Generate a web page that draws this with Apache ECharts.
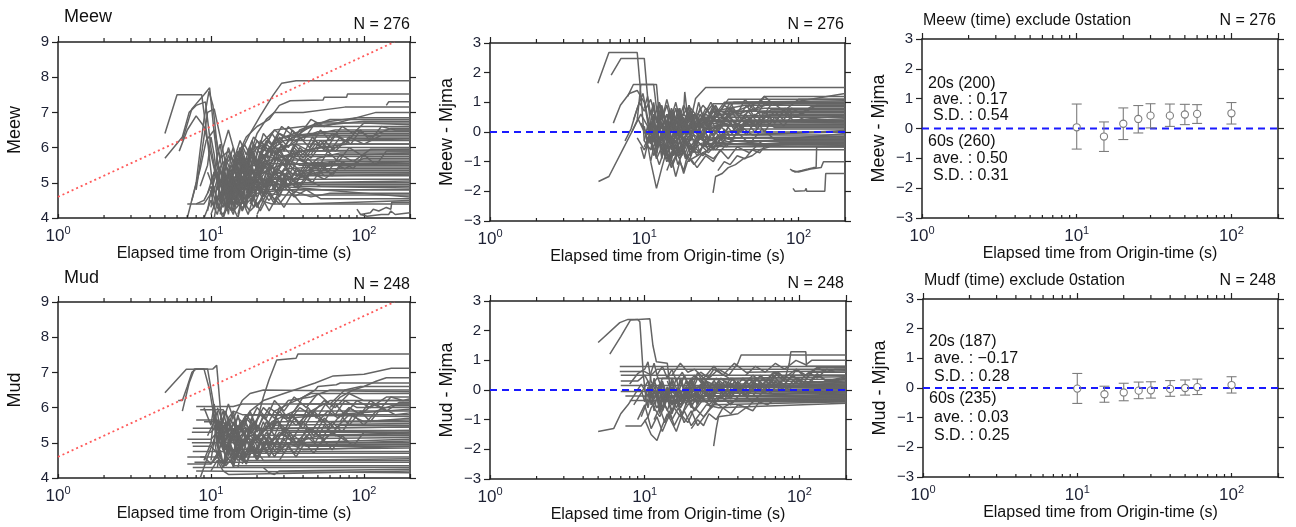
<!DOCTYPE html>
<html><head><meta charset="utf-8">
<script src="https://cdn.jsdelivr.net/npm/echarts@6/dist/echarts.min.js"></script>
<style>html,body{margin:0;padding:0;background:#fff}#c{width:1296px;height:527px}</style>
</head><body><div id="c"></div>
<script>
// ---------------- data ----------------
const xTickLabels = [1, 10, 100];
const minorTicks = [2,3,4,5,6,7,8,9,20,30,40,50,60,70,80,90];
const redLineX = [1, 158];
const redLineY = [4.6, 9.0];
const zeroLineX = [1, 200];

// Meew traces (t, M, t, M, ...)
const meewTraces = [
[5,6.4, 6,7.5, 8.7,7.5, 9.5,6.2, 10.2,5.0, 11,4.5, 12.5,4.8, 14,4.4, 16,5.0, 19,5.3, 24,5.9, 30,6.2, 200,6.2],
[5,5.7, 6.5,6.3, 7.2,7.0, 8,7.2, 9.2,7.3, 10,6.0, 10.8,5.2, 12,5.6, 14,5.1, 17,5.6, 20,6.0, 26,6.5, 40,6.6, 200,6.6],
[6.5,6.2, 7.5,7.1, 9,7.5, 9.8,7.7, 10.5,6.4, 11.5,5.0, 13,4.6, 15,5.2, 18,5.0, 22,5.6, 35,5.8, 200,5.8],
[7,4.0, 8,5.0, 9,6.8, 9.7,7.6, 10.3,7.2, 11,6.0, 12,5.3, 13,4.8, 15,4.4, 17,4.9, 20,5.2, 28,5.5, 60,5.6, 200,5.6],
[8,4.8, 8.8,6.0, 9.5,7.0, 10.5,7.1, 11.5,6.3, 12.5,5.5, 14,5.0, 17,5.4, 21,5.1, 26,5.7, 50,6.0, 80,6.1, 200,6.1],
[6.2,5.9, 7,6.5, 8,6.9, 9,6.6, 10,5.8, 11,5.0, 12,4.4, 14,4.2, 17,4.6, 22,4.9, 40,5.0, 200,5.0],
[7.5,4.5, 8.5,5.4, 9.3,6.2, 10.5,6.5, 11.5,5.7, 13,5.9, 15,5.3, 19,5.5, 25,5.2, 32,5.4, 70,5.5, 200,5.5],
[8,4.4, 9,4.5, 10,4.9, 11,4.3, 12,4.1, 13.5,4.5, 16,4.3, 20,4.7, 30,4.8, 200,4.8],
[9.5,4.7, 10.5,5.3, 11.5,4.9, 12.5,5.5, 13.5,5.0, 15,5.7, 16.5,5.2, 18,5.8, 20,5.4, 24,6.0, 30,6.3, 45,6.4, 200,6.4],
[10,4.1, 11,4.6, 12,4.3, 13,5.0, 14,4.6, 15.5,5.3, 17,4.8, 19,5.2, 22,4.9, 27,5.3, 35,5.1, 50,5.3, 200,5.3],
[10.5,5.5, 11.5,5.0, 12.5,5.7, 13.5,5.3, 15,5.9, 16,5.4, 18,6.0, 20,5.6, 23,6.2, 28,5.9, 40,6.3, 65,6.5, 200,6.5],
[11,4.4, 12,4.0, 13,4.6, 14,4.2, 15,4.8, 16.5,4.4, 18,5.0, 20,4.6, 24,5.1, 30,4.9, 40,5.2, 200,5.2],
[11,5.2, 12,4.7, 13,5.3, 14.5,4.8, 16,5.5, 17.5,5.0, 19,5.6, 21,5.2, 25,5.8, 30,5.5, 38,5.9, 55,6.0, 200,6.0],
[12,4.9, 13,4.4, 14,5.1, 15,4.6, 16,5.2, 18,4.7, 20,5.3, 23,4.8, 27,5.4, 34,5.1, 45,5.4, 200,5.4],
[12.5,4.2, 13.5,4.9, 14.5,4.4, 16,5.0, 17,4.5, 19,5.1, 21,4.7, 24,5.2, 28,4.8, 36,5.0, 200,5.05],
[10,5.0, 11,5.6, 12,5.1, 13,5.8, 14,5.4, 15.5,6.0, 17,5.5, 19,6.1, 22,5.7, 26,6.2, 35,6.4, 60,6.8, 200,6.8],
[13,5.6, 14,6.0, 15,5.5, 16.5,6.1, 18,5.8, 20,6.4, 23,6.8, 26,7.0, 40,7.0, 75,7.15, 200,7.15],
[11,4.6, 13,5.0, 15,5.7, 18,6.4, 21,6.9, 25.5,7.49, 29,7.83, 36,7.9, 200,7.9],
[15,5.8, 17,6.3, 20,6.6, 24,6.8, 28,7.2, 33,7.33, 54,7.35, 55,7.43, 77,7.43, 78,7.52, 200,7.52],
[14,4.3, 15,4.0, 16,4.5, 17.5,4.1, 19,4.6, 21,4.2, 24,4.7, 28,4.4, 33,4.8, 45,4.6, 60,4.7, 200,4.7],
[16,4.6, 17,5.1, 18.5,4.7, 20,5.3, 22,4.9, 25,5.5, 28,5.1, 32,5.6, 40,5.3, 50,5.7, 70,5.85, 200,5.85],
[17,5.3, 18.5,5.9, 20,5.5, 22,6.1, 25,5.8, 28,6.3, 32,6.0, 38,6.5, 50,6.7, 90,6.85, 200,6.85],
[18,4.4, 20,4.9, 22,4.5, 25,5.0, 28,4.6, 32,5.2, 37,4.9, 45,5.3, 55,5.1, 70,5.45, 200,5.45],
[20,5.0, 22,5.5, 25,5.2, 28,5.7, 31,5.4, 35,5.9, 40,5.6, 48,6.1, 60,5.9, 80,6.25, 200,6.25],
[22,4.6, 25,5.1, 28,4.8, 32,5.3, 36,5.0, 42,5.5, 50,5.2, 60,5.6, 75,5.4, 100,5.7, 200,5.7],
[25,4.8, 28,5.2, 32,4.9, 36,5.4, 42,5.1, 50,5.6, 58,5.3, 70,5.8, 85,5.6, 110,5.95, 200,5.95],
[9,4.0, 10,4.5, 11,4.1, 12,4.8, 13,4.3, 14,4.9, 16,4.5, 18,4.2, 21,4.5, 25,4.4, 200,4.4],
[11.5,4.6, 12.5,5.2, 13.5,4.7, 15,5.4, 16.5,4.9, 18,5.5, 20,5.0, 23,5.6, 27,5.3, 32,5.8, 42,5.55, 200,5.55],
[12,5.4, 13,6.0, 14,5.6, 15.5,6.2, 17,5.8, 19,6.3, 22,6.0, 26,6.5, 32,6.2, 45,6.6, 100,6.75, 200,6.75],
[14,5.2, 15,4.7, 16,5.4, 17,4.9, 18.5,5.5, 20,5.0, 22,5.6, 25,5.2, 30,5.7, 38,5.5, 200,5.5],
[15,4.9, 16,4.4, 17,5.0, 18,4.6, 19.5,5.2, 21,4.8, 23,5.3, 26,4.9, 30,5.4, 36,5.2, 48,5.35, 200,5.35],
[18,5.7, 20,6.2, 22,5.9, 25,6.4, 28,6.1, 32,6.6, 37,6.3, 45,6.8, 55,6.6, 120,7.0, 200,7.0],
[13,4.5, 14,5.2, 15,4.8, 16,5.6, 17,5.1, 18,5.7, 19,5.2, 21,5.9, 24,5.5, 28,6.0, 36,6.1, 200,6.1],
[16,4.2, 18,4.7, 20,4.3, 23,4.9, 26,4.5, 30,5.0, 35,4.7, 42,5.1, 52,4.9, 200,4.9],
[20,4.3, 23,4.8, 26,4.4, 30,4.9, 35,4.6, 42,4.8, 52,4.55, 200,4.55],
[24,5.3, 28,5.8, 33,5.5, 38,6.0, 45,5.7, 55,6.2, 65,5.9, 80,6.3, 100,6.1, 130,6.35, 200,6.35],
[30,5.5, 35,6.0, 40,5.7, 48,6.2, 56,5.9, 66,6.4, 76,6.1, 90,6.5, 110,6.3, 150,6.55, 200,6.55],
[9.5,5.3, 10.5,4.8, 11.5,5.4, 12.5,4.9, 13.5,5.5, 15,5.1, 17,5.7, 19,5.3, 22,5.8, 27,5.65, 200,5.65],
[90,4.25, 95,4.1, 110,4.15, 115,4.25, 125,4.2, 140,4.3, 150,4.25, 152,4.45, 200,4.45],
[95,4.1, 105,4.05, 130,4.1, 145,4.1, 150,4.2, 160,4.1, 200,4.15],
[140,7.2, 145,7.3, 200,7.3],
[7,4.4, 9,4.4, 10,4.7, 11,5.4, 12,6.0, 13,6.5, 14,6.0, 15,5.4, 16,4.9, 18,5.2, 22,4.7, 30,4.65, 200,4.65],
[10,4.3, 10.5,4.9, 11,4.4, 11.5,5.1, 12,4.6, 12.5,5.3, 13,4.8, 14,5.5, 15,5.0, 16,5.6, 17.5,5.2, 19,5.8, 21,5.4, 24,5.9, 29,5.75, 200,5.75],
[10.5,4.0, 11,4.5, 11.5,4.2, 12,4.7, 12.5,4.3, 13,4.9, 14,4.5, 15,5.0, 16,4.6, 17,5.1, 19,4.8, 22,5.1, 200,5.1],
[11,4.8, 11.5,5.4, 12,4.9, 12.5,5.6, 13,5.1, 13.5,5.8, 14.5,5.3, 15.5,5.9, 17,5.5, 19,6.05, 23,5.9, 200,5.9],
[11.5,4.1, 12,4.6, 12.5,4.2, 13,4.8, 13.5,4.4, 14.5,5.0, 15.5,4.6, 16.5,5.2, 18,4.8, 20,5.3, 23,5.0, 30,5.25, 200,5.25],
[12,5.1, 12.5,4.6, 13,5.3, 13.5,4.8, 14,5.5, 15,5.0, 16,5.7, 17,5.2, 18.5,5.9, 20,5.5, 23,6.1, 27,5.8, 34,6.3, 200,6.3],
[12.5,4.5, 13,4.1, 13.5,4.7, 14,4.3, 15,4.9, 16,4.4, 17,5.0, 18,4.6, 20,5.1, 22,4.7, 25,5.2, 30,4.95, 200,4.95],
[13,5.4, 13.5,4.9, 14,5.6, 15,5.1, 16,5.8, 17,5.3, 18,6.0, 19.5,5.6, 21,6.2, 24,5.9, 28,6.4, 35,6.2, 50,6.45, 200,6.45],
[13.5,4.2, 14,4.8, 15,4.4, 16,5.0, 17,4.5, 18,5.1, 19.5,4.7, 21,5.2, 23,4.8, 26,5.3, 30,5.0, 37,5.35, 200,5.35],
[14,4.6, 15,5.3, 16,4.8, 17,5.5, 18,5.0, 19,5.7, 20.5,5.2, 22,5.8, 24,5.4, 27,6.0, 31,5.6, 36,6.1, 44,5.9, 200,5.95],
[15,4.1, 16,4.6, 17,4.3, 18,4.9, 19,4.5, 20.5,5.0, 22,4.6, 24,5.1, 27,4.7, 30,5.2, 35,4.9, 200,4.85],
[16,5.0, 17,5.6, 18,5.2, 19,5.9, 20.5,5.4, 22,6.1, 24,5.7, 27,6.3, 30,5.9, 34,6.5, 40,6.2, 48,6.7, 200,6.7],
[17,4.7, 18,5.2, 19,4.8, 20.5,5.4, 22,5.0, 24,5.5, 26,5.1, 29,5.6, 33,5.3, 38,5.7, 45,5.5, 200,5.6],
[19,4.5, 20.5,5.0, 22,4.6, 24,5.2, 26,4.8, 29,5.3, 32,4.9, 36,5.4, 41,5.1, 47,5.5, 55,5.2, 200,5.25],
[21,5.2, 23,5.8, 25,5.4, 28,6.0, 31,5.6, 35,6.1, 40,5.8, 46,6.3, 53,6.0, 62,6.4, 75,6.2, 200,6.25],
[23,4.9, 26,5.4, 29,5.0, 33,5.5, 37,5.2, 43,5.7, 50,5.4, 58,5.9, 68,5.6, 80,6.0, 95,5.8, 200,5.85],
[26,5.6, 29,6.1, 33,5.8, 38,6.3, 44,6.0, 52,6.5, 60,6.2, 72,6.6, 85,6.4, 100,6.7, 200,6.65],
[35,4.9, 40,5.3, 46,5.0, 54,5.5, 62,5.2, 72,5.6, 85,5.4, 100,5.8, 120,5.5, 140,5.9, 200,5.9],
[45,5.8, 52,6.2, 60,5.9, 70,6.3, 82,6.1, 95,6.5, 110,6.2, 130,6.6, 160,6.5, 200,6.5],
[10,4.6, 10.5,5.2, 11,5.8, 11.5,6.1, 12,5.5, 12.5,4.9, 13,5.4, 14,4.8, 15,5.3, 16,4.7, 18,5.2, 21,4.8, 200,4.8],
[9.5,4.2, 10,4.8, 10.5,4.3, 11,5.0, 11.5,4.5, 12,5.2, 12.5,4.7, 13.5,5.3, 14.5,4.8, 16,5.4, 18,5.0, 21,5.55, 200,5.5],
[12,4.0, 13,4.4, 14,4.1, 15,4.6, 16,4.2, 17.5,4.7, 19,4.3, 21,4.8, 24,4.5, 28,4.9, 200,4.6],
[14,5.8, 15,5.3, 16,6.0, 17,5.5, 18.5,6.2, 20,5.8, 22,6.4, 25,6.1, 29,6.6, 34,6.35, 200,6.35],
[20,4.1, 22,4.5, 24,4.2, 27,4.6, 30,4.3, 34,4.7, 39,4.4, 200,4.5],
[8.5,4.9, 9.5,5.5, 10,6.3, 10.5,5.8, 11,5.0, 11.5,4.5, 12.5,4.9, 13.5,4.4, 15,4.9, 17,4.5, 20,4.95, 200,4.95]
];

// Meew - Mjma traces
const meewDiffTraces = [
[5,1.64, 5.9,2.68, 9.0,2.68, 9.6,1.0, 10,-0.3, 11,-0.6, 12.5,-0.2, 14,-0.7, 16,-0.3, 19,0.1, 24,0.3, 35,0.5, 200,0.5],
[6.1,1.92, 7.07,2.48, 10,2.48, 10.5,1.2, 11,0.2, 12,-0.4, 13.5,0.1, 15,-0.5, 17,-0.1, 20,0.3, 26,0.1, 40,0.4, 200,0.4],
[5.05,-1.67, 5.9,-1.5, 7.4,-0.5, 8.3,0.0, 9.5,0.6, 10.5,0.2, 12,0.5, 13,-0.1, 15,0.3, 18,-0.2, 22,0.2, 30,0.0, 200,0.0],
[7.8,1.2, 8.5,1.6, 11.5,1.6, 12,0.8, 13,0.2, 14,0.6, 15,-0.2, 17,0.3, 20,-0.1, 24,0.4, 32,0.6, 60,0.8, 200,0.8],
[6.3,0.3, 7,0.9, 8,1.3, 9,1.4, 10,1.0, 10.8,0.0, 11.5,-0.8, 12.5,-0.4, 14,-0.9, 16,-0.5, 19,-0.8, 23,-0.4, 30,-0.2, 200,-0.2],
[7.5,-0.3, 8.2,0.1, 9,0.8, 9.8,1.3, 10.5,0.5, 11.5,-0.3, 13,0.2, 14.5,-0.4, 16,0.0, 18,-0.5, 21,-0.1, 26,-0.4, 40,-0.3, 200,-0.3],
[8.5,0.4, 9.3,1.0, 10,0.7, 11,1.1, 12,0.4, 13,0.8, 14,0.1, 15.5,0.6, 17,0.0, 19,0.5, 23,0.2, 28,0.7, 45,0.9, 200,0.9],
[9,-0.2, 10,-0.6, 11,-0.2, 12,-0.9, 13,-0.5, 14,-1.0, 15.5,-0.6, 17,-0.9, 19,-0.4, 22,-0.7, 26,-0.3, 32,-0.1, 200,-0.1],
[9.5,0.3, 10.5,-0.1, 11.5,0.4, 12.5,-0.3, 13.5,0.2, 15,-0.4, 16.5,0.1, 18,-0.3, 20,0.2, 23,-0.2, 27,0.3, 36,0.2, 200,0.2],
[10,-0.5, 11,0.0, 12,-0.6, 13,-0.2, 14,-0.8, 15,-0.3, 16.5,-0.7, 18,-0.2, 20,-0.6, 24,-0.1, 30,-0.4, 200,-0.4],
[11,0.6, 12,0.1, 13,0.7, 14,0.2, 15,0.8, 16.5,0.3, 18,0.9, 20,0.4, 21.5,1.13, 25,1.5, 200,1.5],
[12,-0.3, 13,0.3, 14,-0.2, 15,0.4, 16,-0.1, 17.5,0.5, 19,0.0, 21,0.6, 24,0.2, 28,0.8, 35,0.6, 55,1.0, 60,1.2, 200,1.2],
[12,0.0, 13,-0.5, 14,0.1, 15,-0.6, 16,-0.1, 17,-0.7, 18.5,-0.2, 20,-0.6, 23,-0.1, 27,-0.5, 33,0.0, 45,0.1, 200,0.1],
[13,0.4, 14,0.9, 15,0.3, 16,0.8, 17,0.2, 18,0.7, 18.3,1.35, 19,0.6, 22,0.2, 25,0.6, 30,0.3, 40,0.7, 200,0.7],
[14,-0.4, 15,-0.9, 16,-0.3, 17.5,-0.8, 19,-0.2, 21,-0.7, 23,-0.1, 26,-0.6, 30,-0.2, 38,-0.4, 200,-0.45],
[15,0.5, 16,0.0, 17,0.6, 18.5,0.1, 20,0.7, 22,0.2, 25,0.8, 28,0.4, 33,0.9, 40,0.6, 70,1.0, 200,1.0],
[16,-0.2, 17,0.3, 18,-0.3, 20,0.2, 22,-0.4, 24,0.1, 27,-0.3, 31,0.2, 36,-0.1, 45,0.3, 200,0.3],
[18,0.1, 20,0.6, 22,0.0, 25,0.5, 28,-0.1, 32,0.4, 37,0.0, 44,0.5, 52,0.2, 65,0.6, 200,0.6],
[20,-0.5, 23,0.0, 26,-0.6, 30,-0.1, 34,-0.5, 40,0.0, 48,-0.4, 58,0.1, 70,-0.25, 200,-0.25],
[25,0.2, 28,0.7, 32,0.3, 37,0.8, 43,0.4, 50,0.9, 58,0.5, 68,1.0, 80,0.7, 100,1.1, 200,1.1],
[30,0.0, 34,0.5, 39,0.1, 45,0.6, 52,0.2, 60,0.7, 70,0.3, 82,0.8, 95,0.5, 120,0.85, 200,0.85],
[40,0.3, 46,-0.1, 53,0.4, 60,0.0, 70,0.5, 80,0.2, 92,0.6, 110,0.4, 200,0.45],
[10.5,0.9, 11.5,0.4, 12.5,1.0, 13.5,0.5, 15,0.0, 16,0.5, 17.5,-0.1, 19,0.4, 21,0.0, 24,0.5, 28,0.35, 200,0.35],
[11,-1.0, 12,-1.9, 13,-1.2, 14,-0.6, 15,-1.1, 17,-0.5, 19,-0.9, 22,-0.3, 26,-0.7, 32,-0.2, 40,-0.3, 200,-0.3],
[27.9,-2.05, 29,-1.5, 32,-1.4, 35,-1.2, 39,-1.1, 44,-0.9, 50,-0.8, 56,-0.6, 65,-0.5, 200,-0.5],
[20,-0.9, 22,-1.2, 25,-0.8, 28,-1.0, 31,-0.6, 35,-0.9, 40,-0.5, 48,-0.7, 58,-0.3, 80,-0.35, 200,-0.35],
[88,-1.25, 95,-1.35, 105,-1.3, 115,-1.25, 125,-1.2, 130,-1.2, 131,-0.5, 200,-0.5],
[90,-1.3, 100,-1.35, 120,-1.25, 140,-1.2, 145,-1.0, 200,-1.0],
[92,-1.9, 95,-2.0, 110,-1.98, 112,-1.9, 113,-2.0, 148,-2.0, 150,-1.4, 200,-1.4],
[8.3,0.0, 9,0.4, 9.5,1.6, 12,1.6, 12.5,0.5, 13.5,0.0, 15,0.4, 17,-0.2, 20,0.2, 24,-0.1, 30,0.25, 200,0.25],
[13,0.2, 14,-0.3, 15,0.3, 16,-0.2, 17,0.4, 18,-0.1, 19.5,0.5, 21,0.0, 23,0.6, 26,0.1, 30,0.6, 50,0.55, 200,0.55],
[9,0.5, 10,0.0, 11,-0.4, 12,0.2, 13,-0.6, 14,-0.1, 15,-0.5, 16.5,0.1, 18,-0.4, 21,0.1, 25,-0.2, 200,-0.15],
[17,0.1, 18,-0.4, 19,0.2, 20,-0.3, 22,0.3, 24,-0.2, 27,0.4, 30,0.0, 35,0.5, 42,0.2, 55,0.65, 200,0.65],
[22,0.4, 25,0.0, 28,0.5, 31,0.1, 35,0.6, 40,0.2, 47,0.7, 55,0.3, 66,0.75, 200,0.75],
[10,0.2, 10.5,-0.4, 11.2,0.3, 12,-0.5, 13,0.0, 14,-0.6, 15,-0.2, 16,-0.8, 17,-0.3, 18.5,-0.7, 20,-0.2, 25,-0.5, 200,-0.05],
[11.5,-0.2, 12.5,0.5, 13.5,-0.1, 14.5,0.6, 15.5,0.1, 17,0.7, 18.5,0.2, 20,0.8, 23,0.4, 28,0.95, 200,0.95],
[13.5,-0.7, 14.5,-0.2, 15.5,-0.8, 17,-0.3, 18.5,-0.9, 20,-0.4, 22,-0.8, 25,-0.3, 29,-0.6, 34,-0.2, 200,-0.2],
[10,-0.3, 10.5,0.2, 11,-0.4, 11.5,0.3, 12,-0.2, 12.5,0.4, 13,-0.3, 14,0.3, 15,-0.3, 16,0.4, 17.5,-0.1, 19,0.5, 21,0.1, 24,0.5, 200,0.5],
[10.5,0.5, 11,-0.1, 11.5,0.6, 12,0.0, 12.5,0.7, 13,0.1, 14,0.6, 15,0.0, 16,0.5, 17,-0.1, 18.5,0.4, 20,0.0, 23,0.4, 200,0.3],
[11,-0.6, 11.5,-0.1, 12,-0.7, 12.5,-0.2, 13,-0.8, 14,-0.3, 15,-0.9, 16,-0.4, 17,-0.8, 18.5,-0.3, 20,-0.7, 23,-0.2, 27,-0.5, 200,-0.4],
[11.5,0.2, 12,-0.4, 12.5,0.3, 13,-0.3, 13.5,0.4, 14.5,-0.2, 15.5,0.5, 16.5,-0.1, 18,0.5, 19.5,0.0, 21,0.6, 24,0.2, 28,0.7, 200,0.7],
[12,-0.8, 12.5,-0.3, 13,-0.9, 13.5,-0.4, 14.5,-1.0, 15.5,-0.5, 16.5,-1.1, 18,-0.6, 19.5,-1.0, 21,-0.5, 24,-0.8, 28,-0.4, 200,-0.45],
[12.5,0.1, 13,0.6, 13.5,0.0, 14.5,0.7, 15.5,0.1, 16.5,0.8, 18,0.2, 19.5,0.9, 21,0.4, 24,0.9, 28,0.5, 33,1.0, 200,1.05],
[13,-0.2, 14,0.3, 15,-0.3, 16,0.2, 17,-0.4, 18,0.1, 19.5,-0.3, 21,0.2, 23,-0.2, 26,0.3, 30,-0.1, 200,0.0],
[14,0.0, 15,0.5, 16,-0.1, 17,0.6, 18,0.0, 19.5,0.7, 21,0.1, 23,0.8, 25,0.3, 28,0.9, 32,0.5, 38,1.0, 200,1.0],
[15,-0.6, 16,-0.1, 17,-0.7, 18.5,-0.2, 20,-0.8, 21.5,-0.3, 23,-0.7, 25,-0.2, 28,-0.6, 32,-0.1, 38,-0.3, 200,-0.25],
[16,0.3, 17,0.8, 18,0.2, 19.5,0.9, 21,0.3, 22.5,1.0, 24,0.5, 27,1.0, 30,0.6, 35,1.1, 200,1.1],
[18,-0.3, 19.5,0.2, 21,-0.4, 23,0.1, 25,-0.5, 27,0.0, 30,-0.4, 33,0.1, 37,-0.3, 42,0.2, 50,-0.1, 200,0.05],
[20,0.5, 22,0.0, 24,0.6, 26,0.1, 29,0.7, 32,0.2, 36,0.8, 40,0.4, 46,0.9, 52,0.5, 60,0.95, 200,0.95],
[22,-0.2, 24,0.3, 26,-0.3, 29,0.2, 32,-0.2, 36,0.3, 40,-0.1, 45,0.4, 52,0.0, 60,0.4, 70,0.15, 200,0.15],
[26,0.4, 29,0.9, 32,0.5, 36,1.0, 40,0.6, 45,1.1, 52,0.7, 60,1.2, 70,0.9, 200,1.3],
[33,-0.1, 37,0.4, 42,0.0, 48,0.5, 54,0.1, 62,0.6, 70,0.3, 80,0.7, 92,0.4, 200,0.55],
[45,0.2, 52,0.6, 60,0.3, 70,0.7, 80,0.4, 90,0.8, 105,0.6, 130,0.9, 200,0.9],
[10,0.8, 10.5,1.2, 11,0.6, 11.5,1.0, 12,0.4, 13,0.9, 14,0.2, 15,0.7, 16,0.1, 18,0.6, 21,0.2, 200,0.2],
[9.5,-0.5, 10,-0.9, 10.5,-0.4, 11,-1.0, 11.5,-0.5, 12.5,-1.1, 13.5,-0.6, 15,-1.2, 16.5,-0.7, 18,-1.4, 19,-1.0, 22,-0.8, 26,-0.6, 200,-0.6],
[14,-1.3, 15,-0.9, 16,-1.5, 17,-1.0, 18,-1.3, 19,-0.8, 21,-1.1, 24,-0.7, 28,-0.9, 33,-0.5, 200,-0.5],
[30,-1.3, 33,-1.0, 36,-1.1, 40,-0.8, 45,-0.9, 50,-0.6, 56,-0.7, 62,-0.4, 200,-0.4],
[11,0.3, 11.5,0.9, 12,0.3, 12.5,1.0, 13,0.4, 14,1.1, 15,0.5, 16,1.0, 17,0.4, 19,0.8, 22,0.4, 200,0.4]
];

// Mud traces
const mudTraces = [
[5,6.42, 6.9,7.09, 10.3,7.1, 10.9,7.2, 11.5,6.0, 12,5.2, 13,5.6, 14.5,5.0, 17,5.4, 20,5.1, 25,5.6, 35,5.9, 200,5.9],
[6.1,6.2, 6.5,6.2, 7,6.6, 7.5,7.0, 8,7.1, 9.5,7.1, 10.5,6.0, 11,5.4, 12,4.9, 13,5.3, 15,4.8, 18,5.2, 22,4.9, 30,5.3, 200,5.3],
[6.5,5.9, 7.2,6.7, 7.8,7.1, 9,7.1, 9.8,6.5, 10.5,5.7, 11.2,5.0, 12,5.5, 13.5,5.1, 16,5.5, 20,5.2, 26,5.6, 200,5.6],
[8,6.03, 14,6.03, 16,6.1, 200,6.1],
[8.5,5.94, 12,5.94, 13,5.7, 14,5.9, 16,5.8, 200,5.8],
[7.6,5.41, 11,5.41, 12,5.6, 13,5.3, 15,5.7, 18,5.4, 200,5.45],
[7.6,4.9, 10,4.9, 11,4.7, 12,5.1, 13,4.8, 200,4.85],
[7.6,4.75, 12,4.75, 13,4.9, 15,4.6, 17,4.75, 200,4.75],
[7.6,4.3, 200,4.3],
[8.5,4.6, 11,4.6, 12,4.4, 14,4.7, 16,4.5, 200,4.5],
[10,4.2, 11,4.5, 12,4.2, 13,4.1, 200,4.2],
[12,4.8, 14,5.2, 16,5.0, 19.4,5.41, 22,6.3, 24,6.8, 26.9,7.35, 36,7.4, 37,7.52, 200,7.52],
[15,5.4, 18,5.9, 22,6.2, 30,6.4, 48,6.7, 63,6.9, 100,6.95, 151,7.12, 200,7.12],
[11,5.0, 12,5.7, 12.5,5.9, 13,5.5, 14,5.9, 15,5.3, 17,5.8, 19,5.5, 22,6.0, 26,5.7, 32,6.2, 45,6.3, 60,6.5, 200,6.5],
[11,4.6, 12,5.2, 13,4.7, 14,5.4, 15,4.9, 16.5,5.3, 18,4.8, 20,5.2, 24,4.9, 28,5.3, 35,5.0, 50,5.2, 200,5.2],
[10.5,5.8, 11.5,5.2, 12.5,5.6, 13.5,5.0, 15,5.5, 17,5.1, 19,5.6, 22,5.3, 26,5.9, 32,6.1, 45,6.4, 200,6.4],
[12,4.3, 13,4.8, 14,4.4, 15,4.9, 16,4.5, 18,5.0, 20,4.6, 23,5.1, 27,4.7, 32,5.0, 40,4.8, 200,4.9],
[13,5.2, 14,4.7, 15,5.3, 16.5,4.9, 18,5.5, 20,5.0, 23,5.6, 26,5.2, 30,5.8, 36,5.5, 45,5.9, 60,6.2, 200,6.2],
[14,4.5, 15.5,5.0, 17,4.6, 19,5.1, 21,4.7, 24,5.2, 27,4.8, 31,5.3, 36,5.0, 44,5.4, 55,5.1, 70,5.5, 200,5.5],
[16,4.4, 18,4.9, 20,4.5, 23,5.0, 26,4.6, 30,5.1, 35,4.7, 42,5.2, 50,4.9, 62,5.3, 80,5.0, 200,5.05],
[18,5.6, 20,6.0, 23,5.7, 26,6.2, 30,5.9, 35,6.3, 42,6.0, 50,6.4, 60,6.1, 75,6.5, 95,6.6, 200,6.6],
[20,4.8, 23,5.3, 26,4.9, 30,5.4, 34,5.1, 40,5.6, 47,5.2, 55,5.7, 65,5.4, 80,5.8, 100,5.6, 200,5.7],
[22,4.3, 24,4.15, 26,4.1, 28,4.2, 200,4.25],
[30,5.2, 35,5.7, 40,5.4, 47,5.9, 55,5.6, 65,6.1, 75,5.8, 90,6.2, 110,6.0, 140,6.3, 200,6.3],
[40,5.0, 46,5.4, 53,5.1, 62,5.6, 72,5.3, 85,5.8, 100,5.5, 120,5.9, 150,6.05, 200,6.05],
[9,4.5, 10,5.0, 10.5,5.8, 11,4.9, 12,4.4, 13,4.9, 14,4.3, 15,4.8, 17,4.4, 19,4.9, 22,4.5, 200,4.55],
[11.5,5.9, 12,5.4, 12.5,5.0, 13,5.6, 14,5.1, 15,4.6, 16,5.1, 17.5,4.7, 19,5.2, 22,4.95, 200,4.95],
[35,5.9, 40,6.3, 48,6.5, 50,6.6, 66,6.65, 70,6.7, 200,6.7],
[60,6.0, 70,6.3, 85,6.5, 100,6.6, 120,6.75, 140,6.85, 200,6.85],
[7,4.6, 9,4.6, 10,4.4, 11,4.7, 12.5,4.35, 14,4.6, 200,4.6],
[7,5.1, 10,5.1, 11,5.3, 12,5.0, 14,5.35, 16,5.1, 200,5.15],
[7.8,4.45, 200,4.45],
[8,5.65, 11,5.65, 12,5.3, 13,5.7, 15,5.4, 17,5.8, 200,5.75],
[9.5,5.2, 10.5,5.6, 11,5.9, 11.5,5.3, 12.5,4.8, 13.5,5.2, 15,4.7, 17,5.1, 20,4.7, 26,5.0, 200,5.0],
[25,5.5, 28,5.9, 32,5.6, 38,6.0, 45,5.8, 55,6.2, 65,6.0, 80,6.4, 100,6.2, 200,6.2],
[50,5.6, 58,5.9, 68,5.7, 80,6.0, 95,5.8, 115,6.1, 140,5.9, 170,6.15, 200,6.15],
[10,4.5, 10.5,5.1, 11,4.6, 11.5,5.3, 12,4.8, 12.5,5.5, 13,5.0, 14,5.6, 15,5.1, 16.5,5.7, 18,5.3, 21,5.8, 25,5.5, 200,5.55],
[10.5,5.5, 11,4.9, 11.5,5.6, 12,5.0, 13,5.7, 14,5.2, 15,5.8, 16,5.3, 18,5.9, 20,5.4, 24,6.0, 30,5.7, 200,5.95],
[11,4.3, 11.5,4.8, 12,4.4, 13,5.0, 14,4.5, 15,5.1, 16,4.6, 17.5,5.2, 19,4.7, 22,5.2, 26,4.9, 200,4.95],
[12,5.0, 12.5,4.5, 13,5.1, 14,4.6, 15,5.3, 16,4.8, 17,5.4, 18.5,4.9, 20,5.5, 23,5.1, 27,5.6, 33,5.3, 200,5.35],
[12.5,4.4, 13.5,4.9, 14.5,4.5, 15.5,5.0, 17,4.6, 18.5,5.1, 20,4.7, 22,5.2, 25,4.8, 29,5.3, 35,5.0, 200,5.1],
[13.5,5.5, 14.5,5.0, 15.5,5.6, 17,5.1, 18.5,5.7, 20,5.3, 22,5.8, 25,5.4, 28,6.0, 32,5.7, 38,6.1, 200,6.1],
[15,4.3, 16,4.8, 17,4.4, 18.5,4.9, 20,4.5, 22,5.0, 24,4.6, 27,5.1, 30,4.7, 35,5.2, 42,4.9, 200,4.9],
[17,5.0, 18.5,5.5, 20,5.1, 22,5.6, 24,5.2, 27,5.7, 30,5.3, 34,5.8, 39,5.5, 45,5.9, 53,5.6, 200,5.65],
[19,4.6, 21,5.1, 23,4.7, 26,5.2, 29,4.8, 33,5.3, 37,4.9, 42,5.4, 48,5.0, 55,5.5, 65,5.2, 200,5.3],
[24,5.2, 27,5.6, 30,5.3, 34,5.8, 38,5.5, 43,6.0, 49,5.7, 56,6.1, 65,5.8, 75,6.2, 90,6.0, 200,6.0],
[28,4.5, 32,4.9, 36,4.6, 41,5.0, 47,4.7, 54,5.1, 62,4.8, 72,5.2, 85,4.9, 100,5.3, 200,5.25],
[45,5.3, 52,5.7, 60,5.4, 70,5.8, 80,5.5, 95,5.9, 110,5.6, 130,6.0, 160,5.8, 200,5.85],
[70,5.6, 80,6.0, 95,5.8, 110,6.2, 130,6.0, 150,6.3, 180,6.2, 200,6.25],
[9,6.0, 10,5.5, 10.5,6.1, 11,5.4, 12,5.9, 13,5.3, 14,5.8, 15,5.2, 17,5.7, 20,5.35, 200,5.35],
[7,4.4, 10,4.4, 11,4.6, 12,4.3, 13,4.55, 14,4.35, 200,4.35],
[7.5,5.3, 10,5.3, 11,5.5, 12,5.2, 200,5.25],
[7.5,5.0, 11,5.0, 200,5.0],
[8,4.2, 200,4.15],
[9,5.6, 12,5.6, 13,5.4, 200,5.45],
[11,6.0, 12,5.6, 13,6.1, 14,5.7, 16,6.2, 18,6.4, 22,6.5, 200,6.45],
[8.5,4.0, 9.5,4.6, 10.5,5.1, 11,5.6, 11.5,5.0, 12.5,4.6, 13.5,4.9, 15,4.5, 18,4.7, 200,4.7]
];

// Mud - Mjma traces
const mudDiffTraces = [
[5,1.6, 6.9,2.27, 7.8,2.38, 9,2.38, 9.3,2.3, 9.8,0.5, 10.3,-0.5, 11,-0.2, 12,-0.6, 13.5,-0.1, 15,-0.5, 18,-0.2, 22,-0.4, 200,-0.3],
[5.95,1.21, 7,1.8, 8.1,2.36, 10.8,2.4, 11.3,1.5, 11.9,0.95, 14,0.9, 14.5,0.2, 15,-0.2, 17,-0.5, 19,-0.1, 23,-0.3, 30,0.0, 200,0.0],
[5,-1.4, 6.3,-1.3, 7,-0.8, 7.8,-0.5, 8.5,-0.2, 9.5,0.2, 10.5,-0.2, 11.5,0.3, 13,-0.3, 15,0.1, 18,-0.2, 22,0.1, 200,0.1],
[6.9,0.79, 200,0.79],
[6.9,0.62, 10,0.62, 11,0.5, 12,0.7, 200,0.7],
[7,0.5, 200,0.5],
[7,0.3, 9,0.3, 10,0.5, 11,0.1, 12,0.4, 200,0.35],
[7,0.15, 200,0.15],
[7,-0.05, 200,-0.05],
[7.5,-0.2, 200,-0.2],
[8,-0.35, 200,-0.35],
[8,0.2, 9,0.55, 10,0.7, 10.5,0.95, 11,0.3, 12,-0.1, 13,0.4, 200,0.25],
[7.5,-1.21, 9.5,-1.21, 10.5,-0.9, 11,-0.6, 12,-0.3, 13,-0.7, 14,-0.2, 200,-0.25],
[9.5,-0.9, 10,-0.6, 10.5,-0.3, 11,0.6, 11.5,0.9, 12,0.5, 13,0.0, 14,-0.4, 15,0.1, 17,-0.3, 20,0.1, 200,0.05],
[10,-1.0, 11,-1.5, 12,-1.7, 13,-1.2, 14,-0.8, 15,-1.1, 16,-1.4, 17,-1.0, 18,-0.7, 20,-1.2, 22,-0.9, 25,-0.5, 30,-0.6, 200,-0.45],
[12,-0.2, 13,-0.6, 14,0.1, 15,-0.5, 16,0.0, 17,-0.4, 18.5,0.1, 20,-0.3, 23,0.2, 26,-0.2, 30,0.1, 36,-0.1, 200,-0.1],
[11,0.2, 12,-0.3, 13,0.3, 14,-0.2, 15,0.4, 16.5,-0.1, 18,0.5, 20,0.0, 22,0.6, 24,0.2, 28,0.7, 35,0.4, 200,0.45],
[13,-0.4, 14,0.0, 15,-0.5, 16.5,0.1, 18,-0.4, 20,0.2, 22,-0.3, 25,0.3, 28,-0.1, 33,0.3, 40,0.1, 200,0.2],
[15,0.5, 17,0.9, 19,0.6, 21,0.7, 24,0.4, 28,0.8, 32,0.5, 38,0.9, 45,0.6, 200,0.65],
[17,-0.6, 19,-0.2, 21,-0.7, 24,-0.3, 27,-0.6, 31,-0.2, 36,-0.5, 42,-0.1, 50,-0.4, 60,0.0, 200,-0.15],
[20,0.3, 23,0.6, 26,0.4, 30,0.7, 35,0.5, 40,0.9, 42,1.18, 200,1.18],
[25,-0.1, 28,0.3, 32,0.0, 36,0.4, 42,0.1, 50,0.5, 58,0.2, 68,0.6, 80,0.3, 86,0.9, 88,1.29, 110,1.29, 111,0.8, 200,0.8],
[27.9,-1.89, 29,-1.3, 30,-0.9, 35,-0.85, 40,-0.8, 45,-0.6, 50,-0.7, 55,-0.4, 62,-0.5, 70,-0.3, 200,-0.3],
[30,0.2, 35,-0.2, 40,0.3, 46,-0.1, 52,0.4, 60,0.0, 68,0.5, 78,0.1, 90,0.5, 105,0.2, 120,0.6, 200,0.6],
[35,-0.3, 40,0.1, 46,-0.2, 53,0.2, 60,-0.1, 70,0.3, 80,0.0, 95,0.4, 110,0.1, 130,0.5, 150,0.3, 200,0.4],
[45,0.5, 52,0.8, 60,0.6, 70,0.9, 80,0.7, 95,1.0, 110,0.85, 120,1.0, 200,1.0],
[8.5,-0.5, 9.5,-0.1, 10.5,0.3, 11.5,-0.3, 12.5,0.2, 13.5,-0.4, 15,0.0, 17,-0.5, 19,-0.1, 22,-0.4, 26,0.0, 200,-0.1],
[11.5,-0.6, 12.5,-0.9, 13.5,-0.5, 15,-1.0, 16.5,-0.6, 18,-1.1, 20,-0.7, 22,-1.2, 25,-0.8, 28,-0.4, 32,-0.6, 40,-0.3, 200,-0.35],
[9,-1.0, 10,-0.5, 11,-1.3, 12,-0.9, 13,-1.4, 14,-1.0, 15.5,-0.6, 17,-0.9, 19,-0.5, 22,-0.2, 200,-0.2],
[60,0.3, 70,0.6, 80,0.4, 95,0.7, 110,0.5, 130,0.75, 150,0.6, 170,0.7, 200,0.7],
[14,0.3, 15,-0.1, 16,0.4, 17,-0.2, 18.5,0.3, 20,-0.1, 22,0.4, 25,0.0, 29,0.4, 34,0.1, 200,0.1],
[10,-0.2, 10.5,-0.6, 11,-0.1, 11.5,-0.7, 12,-0.2, 12.5,-0.8, 13,-0.3, 14,-0.7, 15,-0.2, 16,-0.6, 18,-0.1, 20,-0.5, 24,-0.1, 200,-0.15],
[10.5,0.3, 11,-0.2, 11.5,0.4, 12,-0.3, 12.5,0.2, 13,-0.4, 14,0.1, 15,-0.5, 16,0.0, 17.5,-0.4, 19,0.1, 22,-0.3, 200,-0.25],
[11,-0.5, 12,-0.1, 13,-0.6, 14,-0.2, 15,-0.7, 16,-0.3, 17,-0.6, 18.5,-0.2, 20,-0.6, 22,-0.1, 25,-0.4, 30,0.0, 200,0.0],
[12,0.1, 12.5,-0.4, 13,0.2, 14,-0.3, 15,0.3, 16,-0.2, 17,0.3, 18.5,-0.2, 20,0.4, 22,-0.1, 25,0.3, 30,0.1, 200,0.3],
[13,-0.7, 14,-0.3, 15,-0.8, 16,-0.4, 17.5,-0.8, 19,-0.3, 21,-0.7, 23,-0.2, 26,-0.5, 30,-0.2, 35,-0.4, 200,-0.4],
[14,-0.1, 15,0.3, 16,-0.2, 17,0.4, 18.5,-0.1, 20,0.3, 22,-0.2, 24,0.4, 27,0.0, 31,0.4, 36,0.1, 200,0.15],
[16,-0.4, 17,0.0, 18.5,-0.5, 20,-0.1, 22,-0.5, 24,0.0, 27,-0.4, 30,0.1, 34,-0.3, 39,0.1, 45,-0.2, 200,-0.05],
[18,0.0, 20,0.4, 22,-0.1, 24,0.3, 27,-0.2, 30,0.3, 33,-0.1, 37,0.4, 42,0.0, 48,0.4, 55,0.1, 200,0.1],
[21,-0.3, 23,0.1, 26,-0.3, 29,0.2, 32,-0.2, 36,0.2, 40,-0.1, 45,0.3, 51,0.0, 58,0.4, 66,0.1, 200,0.25],
[24,0.1, 27,-0.3, 30,0.2, 34,-0.2, 38,0.3, 43,-0.1, 49,0.3, 55,0.0, 63,0.4, 72,0.1, 82,0.5, 200,0.5],
[29,-0.4, 32,0.0, 36,-0.3, 40,0.1, 45,-0.2, 51,0.2, 58,-0.1, 66,0.3, 75,0.0, 86,0.4, 100,0.2, 200,0.35],
[38,0.0, 43,0.4, 49,0.1, 56,0.5, 64,0.2, 73,0.6, 84,0.3, 96,0.7, 110,0.4, 130,0.75, 200,0.75],
[50,-0.2, 57,0.2, 65,-0.1, 75,0.3, 86,0.0, 98,0.4, 112,0.2, 130,0.55, 150,0.3, 200,0.45],
[80,0.2, 90,0.5, 100,0.3, 115,0.6, 130,0.4, 150,0.7, 170,0.6, 200,0.6],
[11.5,-1.0, 12.5,-0.6, 13.5,-1.1, 14.5,-0.7, 15.5,-1.2, 17,-0.8, 19,-1.1, 21,-0.6, 24,-0.9, 28,-0.5, 200,-0.4],
[12,0.5, 13,0.8, 14,0.4, 15,0.7, 16,0.3, 17.5,0.6, 19,0.2, 21,0.5, 24,0.2, 200,0.2],
[9.5,0.0, 10,-0.4, 10.5,0.1, 11,-0.5, 11.5,0.0, 12.5,-0.6, 13.5,-0.1, 15,-0.5, 17,-0.2, 200,-0.2],
[20,-1.3, 22,-1.0, 24,-1.2, 26,-0.8, 29,-1.0, 32,-0.6, 36,-0.8, 40,-0.5, 46,-0.6, 52,-0.3, 200,-0.3]
];

// error bars (time, mean, lower, upper)
const ebTimes = [10, 15, 20, 25, 30, 40, 50, 60, 100];
const meewMean = [0.04, -0.27, 0.16, 0.32, 0.43, 0.43, 0.47, 0.49, 0.51];
const meewLow  = [-0.69, -0.77, -0.37, -0.15, 0.02, 0.07, 0.13, 0.17, 0.15];
const meewHigh = [0.82, 0.22, 0.69, 0.77, 0.83, 0.82, 0.81, 0.80, 0.87];
const mudMean  = [-0.02, -0.21, -0.15, -0.09, -0.08, -0.03, 0.00, 0.03, 0.10];
const mudLow   = [-0.52, -0.48, -0.43, -0.36, -0.34, -0.28, -0.24, -0.22, -0.17];
const mudHigh  = [0.49, 0.06, 0.16, 0.20, 0.21, 0.25, 0.27, 0.30, 0.38];

// ---------------- layout ----------------
const FONT = '"Liberation Sans", Arial, sans-serif';
const TXT = '#111';
const LBL = '#1c2033';
const panels = [
  {left:58,  top:42,  width:352, height:176, ymin:4,  ymax:9, yname:'Meew',        nameGapX:22},
  {left:490, top:43,  width:355, height:178, ymin:-3, ymax:3, yname:'Meew - Mjma', nameGapX:22},
  {left:922, top:39,  width:356, height:179, ymin:-3, ymax:3, yname:'Meew - Mjma', nameGapX:22},
  {left:58,  top:302, width:352, height:176, ymin:4,  ymax:9, yname:'Mud',         nameGapX:28},
  {left:490, top:301, width:356, height:178, ymin:-3, ymax:3, yname:'Mud - Mjma',  nameGapX:28},
  {left:923, top:299, width:355, height:178, ymin:-3, ymax:3, yname:'Mud - Mjma',  nameGapX:28}
];

const grid = panels.map(p => ({left:p.left, top:p.top, width:p.width, height:p.height, containLabel:false, outerBoundsMode:'none', show:false}));
const axisLineStyle = {show:true, onZero:false, lineStyle:{color:'#222', width:1.5}};
const tickStyle = {color:'#222', width:1.2};
const xAxis = [], yAxis = [];
panels.forEach((p, i) => {
  xAxis.push({type:'log', logBase:10, gridIndex:i, min:1, max:200, position:'bottom',
    axisLine:axisLineStyle, axisTick:{show:true, inside:true, length:4, lineStyle:tickStyle},
    splitLine:{show:false},
    axisLabel:{margin:7, formatter:(v) => {
      const e = Math.round(Math.log10(v));
      if (!xTickLabels.some(t => Math.abs(t - v) < 1e-6 * t)) return '';
      return '{b|10}{s|' + e + '}';
    }, rich:{b:{fontSize:17, fontFamily:FONT, color:LBL, lineHeight:20, verticalAlign:'bottom'},
             s:{fontSize:11, fontFamily:FONT, color:LBL, lineHeight:12, verticalAlign:'top'}}},
    name:'Elapsed time from Origin-time (s)', nameLocation:'middle', nameGap:p.nameGapX,
    nameTextStyle:{fontSize:16, fontFamily:FONT, color:TXT, verticalAlign:'top'}
  });
});
panels.forEach((p, i) => {
  xAxis.push({type:'log', logBase:10, gridIndex:i, min:1, max:200, position:'top',
    axisLine:axisLineStyle, axisTick:{show:true, inside:false, length:6, lineStyle:tickStyle},
    axisLabel:{show:false}, splitLine:{show:false}});
});
panels.forEach((p, i) => {
  yAxis.push({type:'value', gridIndex:i, min:p.ymin, max:p.ymax, interval:1, position:'left',
    axisLine:axisLineStyle, axisTick:{show:true, inside:false, length:6, lineStyle:tickStyle},
    splitLine:{show:false},
    axisLabel:{margin:9, fontSize:15, fontFamily:FONT, color:LBL, formatter:(v) => v < 0 ? '\u2212' + (-v) : String(v)},
    name:p.yname, nameLocation:'middle', nameGap:34, nameTextStyle:{fontSize:18, fontFamily:FONT, color:TXT}
  });
});
panels.forEach((p, i) => {
  yAxis.push({type:'value', gridIndex:i, min:p.ymin, max:p.ymax, interval:1, position:'right',
    axisLine:axisLineStyle, axisTick:{show:true, inside:false, length:6, lineStyle:tickStyle},
    axisLabel:{show:false}, splitLine:{show:false}});
});

const series = [];
function pairs(f){ const out=[]; for(let k=0;k<f.length;k+=2) out.push([f[k], f[k+1]]); return out; }
function addTraces(traces, idx){
  traces.forEach(f => series.push({type:'line', xAxisIndex:idx, yAxisIndex:idx, data:pairs(f),
    symbol:'none', showSymbol:false, silent:true, animation:false, z:2,
    lineStyle:{color:'#646464', width:1.5}}));
}
addTraces(meewTraces, 0);
addTraces(meewDiffTraces, 1);
addTraces(mudTraces, 3);
addTraces(mudDiffTraces, 4);

// red dotted reference line
[0,3].forEach(idx => series.push({type:'line', xAxisIndex:idx, yAxisIndex:idx,
  data:redLineX.map((x,k)=>[x, redLineY[k]]), symbol:'none', silent:true, animation:false, z:5,
  lineStyle:{color:'#ff5a5a', width:1.8, type:[2,3]}}));
// blue dashed zero line
[1,2,4,5].forEach(idx => series.push({type:'line', xAxisIndex:idx, yAxisIndex:idx,
  data:zeroLineX.map(x=>[x, 0]), symbol:'none', silent:true, animation:false, z:6,
  lineStyle:{color:'#1a1aff', width:2, type:[7,5]}}));

// error bars
function addErr(idx, mean, lo, hi){
  series.push({type:'custom', xAxisIndex:idx, yAxisIndex:idx, silent:true, animation:false, z:7,
    data: ebTimes.map((t,k)=>[t, mean[k], lo[k], hi[k]]),
    encode:{x:0, y:1},
    renderItem:(params, api) => {
      const t = api.value(0);
      const pm = api.coord([t, api.value(1)]), pl = api.coord([t, api.value(2)]), ph = api.coord([t, api.value(3)]);
      const st = {stroke:'#7d7d7d', lineWidth:1.1, fill:null};
      const r = 3.6, cw = 5;
      return {type:'group', children:[
        {type:'line', shape:{x1:ph[0], y1:ph[1], x2:pm[0], y2:pm[1]-r}, style:st},
        {type:'line', shape:{x1:pm[0], y1:pm[1]+r, x2:pl[0], y2:pl[1]}, style:st},
        {type:'line', shape:{x1:ph[0]-cw, y1:ph[1], x2:ph[0]+cw, y2:ph[1]}, style:st},
        {type:'line', shape:{x1:pl[0]-cw, y1:pl[1], x2:pl[0]+cw, y2:pl[1]}, style:st},
        {type:'circle', shape:{cx:pm[0], cy:pm[1], r:r}, style:{stroke:'#7d7d7d', lineWidth:1.1, fill:'rgba(0,0,0,0)'}}
      ]};
    }});
}
addErr(2, meewMean, meewLow, meewHigh);
addErr(5, mudMean, mudLow, mudHigh);

// minor log ticks
panels.forEach((p, i) => {
  series.push({type:'custom', xAxisIndex:i, yAxisIndex:i, silent:true, animation:false, z:8,
    data: minorTicks.map(t => [t, p.ymin]), encode:{x:0, y:1},
    renderItem:(params, api) => {
      const t = api.value(0);
      const pt = api.coord([t, p.ymax]), pb = api.coord([t, p.ymin]);
      const st = {stroke:'#222', lineWidth:1.2};
      return {type:'group', children:[
        {type:'line', shape:{x1:pt[0], y1:pt[1], x2:pt[0], y2:pt[1]-4}, style:st},
        {type:'line', shape:{x1:pb[0], y1:pb[1], x2:pb[0], y2:pb[1]-3}, style:st}
      ]};
    }});
});

// text
function txt(x, y, s, align, size){
  return {type:'text', x:x, y:y, silent:true, style:{text:s, fill:TXT, font:(size||16)+'px '+FONT, textAlign:align||'left', textVerticalAlign:'middle'}};
}
const graphic = [
  txt(64, 17, 'Meew', 'left', 18), txt(410, 25, 'N = 276', 'right'),
  txt(844, 25, 'N = 276', 'right'),
  txt(923, 21, 'Meew (time) exclude 0station', 'left'), txt(1276, 21, 'N = 276', 'right'),
  txt(928, 84, '20s (200)'), txt(933, 100, 'ave. : 0.17'), txt(933, 116, 'S.D. : 0.54'),
  txt(928, 142, '60s (260)'), txt(933, 159, 'ave. : 0.50'), txt(933, 176, 'S.D. : 0.31'),
  txt(64, 278, 'Mud', 'left', 18), txt(410, 285, 'N = 248', 'right'),
  txt(844, 284, 'N = 248', 'right'),
  txt(924, 281, 'Mudf (time) exclude 0station', 'left'), txt(1276, 281, 'N = 248', 'right'),
  txt(929, 342, '20s (187)'), txt(934, 359, 'ave. : \u22120.17'), txt(934, 377, 'S.D. : 0.28'),
  txt(929, 399, '60s (235)'), txt(934, 418, 'ave. : 0.03'), txt(934, 436, 'S.D. : 0.25')
];

const chart = echarts.init(document.getElementById('c'), null, {renderer:'canvas'});
chart.setOption({animation:false, backgroundColor:'#fff', grid, xAxis, yAxis, series, graphic});
</script></body></html>
